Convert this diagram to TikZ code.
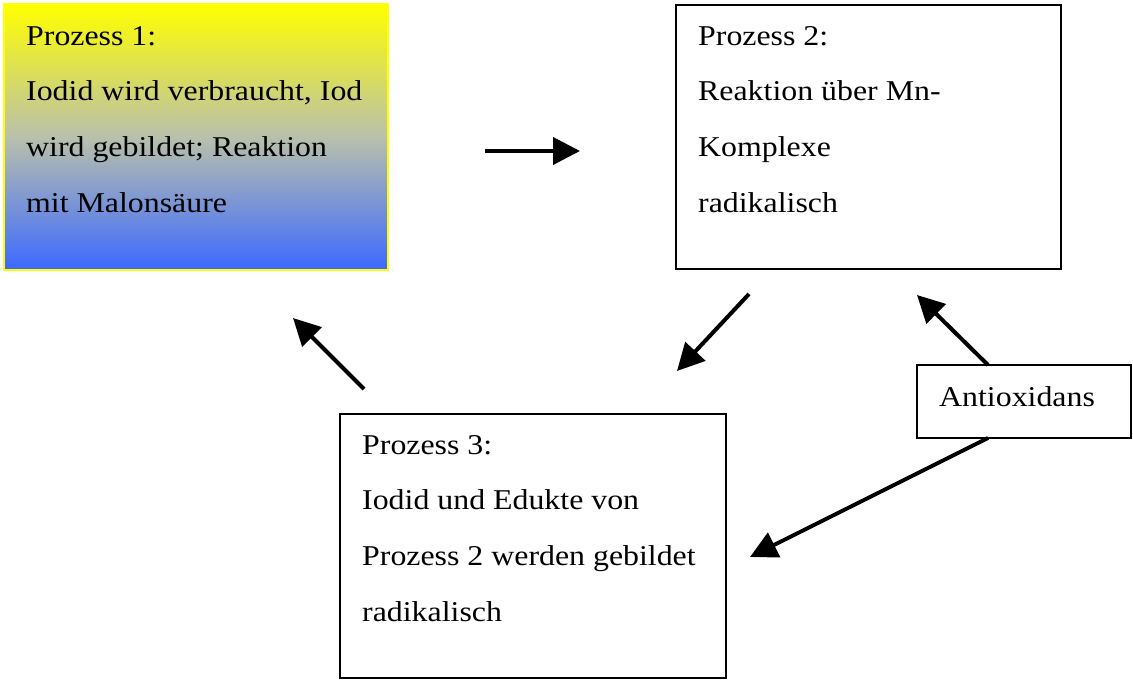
\documentclass[tikz,border=0pt]{standalone}
\usepackage{fontspec}
\setmainfont{Liberation Serif}
\newfontfamily\boxfont[FakeStretch=1.11]{Liberation Serif}
\usetikzlibrary{arrows.meta}
\definecolor{topyellow}{RGB}{255,255,0}
\definecolor{midgray}{RGB}{185,192,172}
\definecolor{botblue}{RGB}{60,105,255}
\tikzset{
  procbox/.style={draw=black, line width=1.8pt, fill=white, anchor=north west, inner sep=0pt, outer sep=0pt},
  gradbox/.style={draw=topyellow, line width=2pt, top color=topyellow, bottom color=botblue, middle color=midgray, anchor=north west, inner sep=0pt, outer sep=0pt},
  boxtext/.style={font=\boxfont\fontsize{28.7pt}{55.7pt}\selectfont, align=left, inner sep=0pt, anchor=north west},
  flow/.style={line width=4pt, -{Triangle[length=27pt,width=27pt]}},
}
\begin{document}
\begin{tikzpicture}[x=1pt,y=-1pt]
\useasboundingbox (0,0) rectangle (1133,682);
% boxes
\node[gradbox, minimum width=384pt, minimum height=266pt] (p1) at (4,4) {};
\node[procbox, minimum width=385pt, minimum height=264pt] (p2) at (676,5) {};
\node[procbox, minimum width=386pt, minimum height=264pt] (p3) at (340,414) {};
\node[procbox, minimum width=214pt, minimum height=73pt] (ant) at (917,365) {};
% texts
\node[boxtext] (t1) at (26,24) {\rule{0pt}{21pt}Prozess 1:\\Iodid wird verbraucht, Iod\\wird gebildet; Reaktion\\mit Malonsäure};
\node[boxtext] (t2) at (698,24) {\rule{0pt}{21pt}Prozess 2:\\Reaktion über Mn-\\Komplexe\\radikalisch};
\node[boxtext] (t3) at (362,433) {\rule{0pt}{21pt}Prozess 3:\\Iodid und Edukte von\\Prozess 2 werden gebildet\\radikalisch};
\node[boxtext] (t4) at (939,385) {\rule{0pt}{21pt}Antioxidans};
% connector end points
\coordinate (a1s) at (485,151);
\coordinate (a1e) at (580,151);
\coordinate (a2s) at (364,389);
\coordinate (a2e) at (293,318);
\coordinate (a3s) at (749,294);
\coordinate (a3e) at (677,371);
\coordinate (a4e) at (917,295);
\coordinate (a5e) at (750,557);
% connectors
\draw[flow] (a1s) -- (a1e);
\draw[flow] (a2s) -- (a2e);
\draw[flow] (a3s) -- (a3e);
\draw[flow] ([xshift=71pt]ant.north west) -- (a4e);
\draw[flow] ([xshift=71pt]ant.south west) -- (a5e);
\end{tikzpicture}
\end{document}
